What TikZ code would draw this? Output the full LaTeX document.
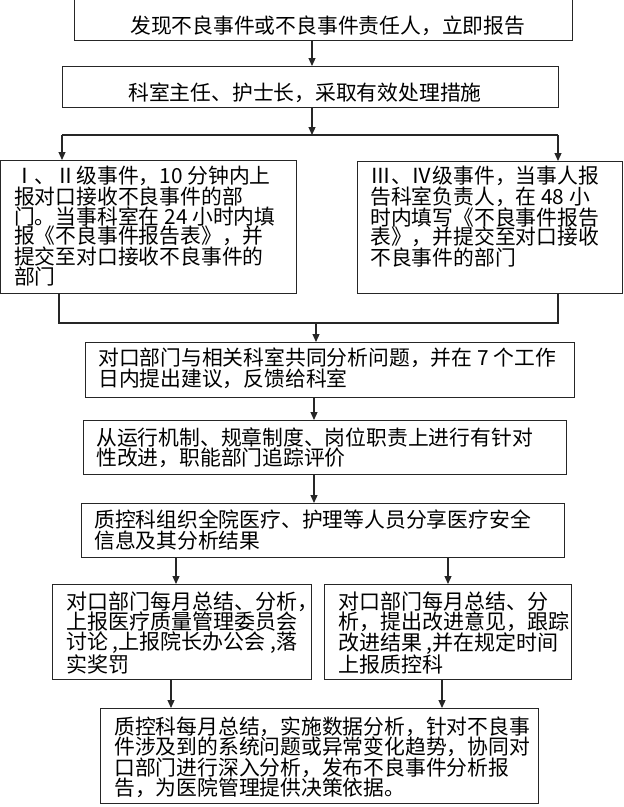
\documentclass[tikz,border=0pt]{standalone}
\usepackage{fontspec}
\newfontfamily\cjk{Noto Sans CJK SC}
\usetikzlibrary{arrows.meta}
\tikzset{
  box/.style={draw=black!85, line width=1.2pt, rectangle, inner sep=0pt, anchor=north west},
  txt/.style={inner sep=0pt, align=left, anchor=west, font=\cjk\fontsize{20.8}{20.5}\selectfont},
  txtt/.style={txt, font=\cjk\fontsize{20.8}{19.6}\selectfont},
  txts/.style={txt, font=\cjk\fontsize{21}{20}\selectfont},
  conn/.style={draw=black!85, line width=1.2pt},
  arr/.style={conn, -{Triangle[length=8pt,width=7pt]}}
}
\begin{document}
\begin{tikzpicture}[x=1pt,y=-1pt]
\useasboundingbox (0,0) rectangle (624,807);
% boxes
\node[box, minimum width=498pt, minimum height=46pt] (b1) at (74,-6) {};
\node[box, minimum width=496pt, minimum height=41pt] (b2) at (62,66) {};
\node[box, minimum width=296pt, minimum height=133pt] (b3l) at (0,160) {};
\node[box, minimum width=265pt, minimum height=132pt] (b3r) at (357,161) {};
\node[box, minimum width=489pt, minimum height=55pt] (b4) at (85,342) {};
\node[box, minimum width=483pt, minimum height=54pt] (b5) at (83,420) {};
\node[box, minimum width=483pt, minimum height=54pt] (b6) at (81,503) {};
\node[box, minimum width=259pt, minimum height=95pt] (b7l) at (52,584) {};
\node[box, minimum width=247pt, minimum height=95pt] (b7r) at (324,584) {};
\node[box, minimum width=438pt, minimum height=95pt] (b8) at (100,708) {};
% texts
\node[txt] (t1) at (130,26) {发现不良事件或不良事件责任人，立即报告};
\node[txt] (t2) at (128,93) {科室主任、护士长，采取有效处理措施};
\node[txtt] (t3l) at (14,226) {Ⅰ、Ⅱ级事件，10 分钟内上\\报对口接收不良事件的部\\门。当事科室在 24 小时内填\\报《不良事件报告表》，并\\提交至对口接收不良事件的\\部门};
\node[txtt] (t3r) at (370,216.5) {Ⅲ、Ⅳ级事件，当事人报\\告科室负责人，在 48 小\\时内填写《不良事件报告\\表》，并提交至对口接收\\不良事件的部门};
\node[txt] (t4) at (98,368.5) {对口部门与相关科室共同分析问题，并在 7 个工作\\日内提出建议，反馈给科室};
\node[txt] (t5) at (96,447.5) {从运行机制、规章制度、岗位职责上进行有针对\\性改进，职能部门追踪评价};
\node[txt] (t6) at (94,530) {质控科组织全院医疗、护理等人员分享医疗安全\\信息及其分析结果};
\node[txts] (t7l) at (66,633) {对口部门每月总结、分析，\\上报医疗质量管理委员会\\讨论 ,上报院长办公会 ,落\\实奖罚};
\node[txts] (t7r) at (338,633) {对口部门每月总结、分\\析，提出改进意见，跟踪\\改进结果 ,并在规定时间\\上报质控科};
\node[txt] (t8) at (114,757.5) {质控科每月总结，实施数据分析，针对不良事\\件涉及到的系统问题或异常变化趋势，协同对\\口部门进行深入分析，发布不良事件分析报\\告，为医院管理提供决策依据。};
% connector coordinates
\coordinate (a1) at (312,0);
\coordinate (j1) at (312,135);
\coordinate (j1l) at (62,135);
\coordinate (j1r) at (558,135);
\coordinate (j2l) at (59,323);
\coordinate (j2r) at (558,323);
\coordinate (j2) at (316,323);
\coordinate (a4) at (314,0);
\coordinate (a6l) at (176,0);
\coordinate (a6r) at (448,0);
\coordinate (a7l) at (171,0);
\coordinate (a7r) at (442,0);
% connectors
\draw[arr] (b1.south -| a1) -- (b2.north -| a1);
\draw[arr] (b2.south -| j1) -- (j1);
\draw[conn] (j1l) -- (j1r);
\draw[arr] (j1l) -- (b3l.north -| j1l);
\draw[arr] (j1r) -- (b3r.north -| j1r);
\draw[conn] (b3l.south -| j2l) -- (j2l) -- (j2r) -- (b3r.south -| j2r);
\draw[arr] (j2) -- (b4.north -| j2);
\draw[arr] (b4.south -| a4) -- (b5.north -| a4);
\draw[arr] (b5.south -| a4) -- (b6.north -| a4);
\draw[arr] (b6.south -| a6l) -- (b7l.north -| a6l);
\draw[arr] (b6.south -| a6r) -- (b7r.north -| a6r);
\draw[arr] (b7l.south -| a7l) -- (b8.north -| a7l);
\draw[arr] (b7r.south -| a7r) -- (b8.north -| a7r);
\end{tikzpicture}
\end{document}
